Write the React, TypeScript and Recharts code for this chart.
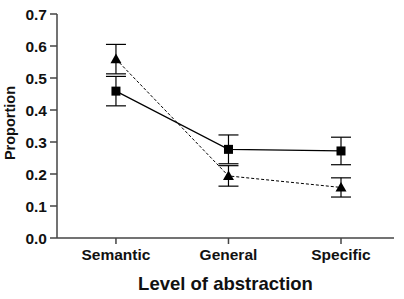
import { LineChart, Line, XAxis, YAxis, ErrorBar } from "recharts"

const categories = ["Semantic", "General", "Specific"]
const squareValues = [0.459, 0.277, 0.272]
const squareErrors = [0.046, 0.045, 0.043]
const triangleValues = [0.559, 0.194, 0.158]
const triangleErrors = [0.046, 0.032, 0.03]
const yTicks = [0, 0.1, 0.2, 0.3, 0.4, 0.5, 0.6, 0.7]

const FONT = "'Liberation Sans', Arial, sans-serif"

const data = categories.map((name, i) => ({
  idx: i,
  name,
  square: squareValues[i],
  squareErr: squareErrors[i],
  triangle: triangleValues[i],
  triangleErr: triangleErrors[i],
}))

// square marker
const SquareDot = (props: any) => {
  const { cx, cy, index } = props
  if (cx == null || cy == null) return null
  return <rect key={`sq-${index}`} x={cx - 4.5} y={cy - 4.5} width={9} height={9} fill="#000" />
}

// triangle marker
const TriangleDot = (props: any) => {
  const { cx, cy, index } = props
  if (cx == null || cy == null) return null
  const r = 5.5
  return (
    <polygon
      key={`tr-${index}`}
      points={`${cx},${cy - r} ${cx - r},${cy + r * 0.75} ${cx + r},${cy + r * 0.75}`}
      fill="#000"
    />
  )
}

export default function App() {
  return (
    <div style={{ position: "absolute", left: 0, top: 0, background: "#fff" }}>
      <LineChart
        width={404}
        height={299}
        data={data}
        margin={{ top: 14, right: 10, bottom: 0, left: 0 }}
      >
        <XAxis
          dataKey="idx"
          type="number"
          domain={[-0.524, 2.471]}
          ticks={[0, 1, 2]}
          tickFormatter={(v: number) => categories[v]}
          allowDataOverflow
          height={61}
          stroke="#444"
          strokeWidth={1.5}
          tickSize={6}
          tickMargin={5}
          tick={{ fill: "#111", fontSize: 15.5, fontWeight: 700, fontFamily: FONT }}
          label={{
            value: "Level of abstraction",
            position: "insideBottom",
            offset: 9,
            fill: "#111",
            fontSize: 18.5,
            fontWeight: 700,
            fontFamily: FONT,
          }}
        />
        <YAxis
          type="number"
          domain={[0, 0.7]}
          ticks={yTicks}
          tickFormatter={(v: number) => v.toFixed(1)}
          width={57}
          stroke="#444"
          strokeWidth={1.5}
          tickSize={7}
          tickMargin={3}
          tick={{ fill: "#111", fontSize: 15.5, fontWeight: 700, fontFamily: FONT }}
          label={{
            content: () => (
              <text
                x={15}
                y={123}
                transform="rotate(-90 15 123)"
                textAnchor="middle"
                fill="#111"
                fontSize={14.5}
                fontWeight={700}
                fontFamily={FONT}
              >
                Proportion
              </text>
            ),
          }}
        />
        <Line
          dataKey="square"
          stroke="#000"
          strokeWidth={1.2}
          dot={SquareDot}
          activeDot={false}
          isAnimationActive={false}
        >
          <ErrorBar dataKey="squareErr" width={10} stroke="#000" strokeWidth={1.2} />
        </Line>
        <Line
          dataKey="triangle"
          stroke="#000"
          strokeWidth={1}
          strokeDasharray="3 2"
          dot={TriangleDot}
          activeDot={false}
          isAnimationActive={false}
        >
          <ErrorBar dataKey="triangleErr" width={10} stroke="#000" strokeWidth={1.2} />
        </Line>
      </LineChart>
    </div>
  )
}
